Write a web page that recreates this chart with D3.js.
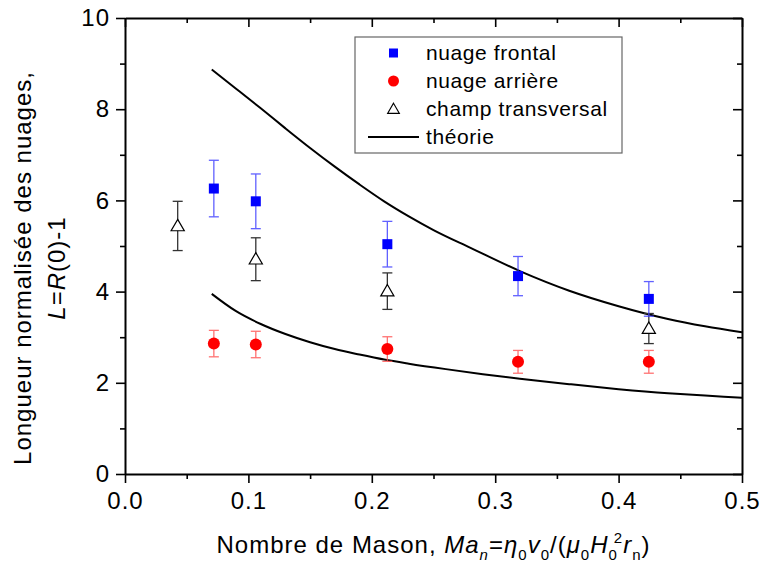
<!DOCTYPE html>
<html><head><meta charset="utf-8">
<script src="https://cdn.jsdelivr.net/npm/d3@7"></script>
<style>
body{margin:0;background:#fff;}
text{font-family:"Liberation Sans",Arial,sans-serif;fill:#000;}
</style></head>
<body><svg id="c" width="760" height="569"></svg>
<script>
// ---- data ----
const xFront = [0.072, 0.106, 0.2126, 0.3185, 0.4245];
const yFront = [6.26, 5.98, 5.04, 4.34, 3.84];
const eFront = [0.62, 0.60, 0.50, 0.43, 0.38];

const xBack = [0.072, 0.106, 0.2126, 0.3185, 0.4245];
const yBack = [2.86, 2.84, 2.74, 2.46, 2.46];
const eBack = [0.29, 0.29, 0.27, 0.25, 0.25];

const xTrans = [0.0427, 0.106, 0.2126, 0.4245];
const yTrans = [5.44, 4.71, 4.01, 3.19];
const eTrans = [0.54, 0.47, 0.40, 0.33];

const xTheoryUp = [0.0703, 0.09, 0.11, 0.13, 0.15, 0.17, 0.19, 0.21, 0.23, 0.25, 0.28, 0.32, 0.36, 0.40, 0.44, 0.47, 0.50];
const yTheoryUp = [8.87, 8.45, 8.02, 7.58, 7.15, 6.74, 6.35, 5.98, 5.65, 5.35, 4.96, 4.45, 4.02, 3.68, 3.40, 3.24, 3.11];
const xTheoryLow = [0.0703, 0.09, 0.11, 0.13, 0.15, 0.17, 0.19, 0.21, 0.23, 0.26, 0.29, 0.32, 0.36, 0.40, 0.44, 0.47, 0.50];
const yTheoryLow = [3.95, 3.57, 3.29, 3.07, 2.89, 2.74, 2.62, 2.51, 2.42, 2.30, 2.19, 2.09, 1.97, 1.86, 1.77, 1.72, 1.67];

const xTicks = [0, 0.1, 0.2, 0.3, 0.4, 0.5];
const xMinor = [0.05, 0.15, 0.25, 0.35, 0.45];
const yTicks = [0, 2, 4, 6, 8, 10];
const yMinor = [1, 3, 5, 7, 9];
const legendLabels = ["nuage frontal", "nuage arrière", "champ transversal", "théorie"];

// ---- chart ----
const svg = d3.select("#c");
const L = 125, R = 742, T = 18, B = 474;
const x = d3.scaleLinear().domain([0, 0.5]).range([L, R]);
const y = d3.scaleLinear().domain([0, 10]).range([B, T]);
const FS = 24, LS = "1px";

function styleAxis(g) {
  g.selectAll("path").attr("stroke", "#000").attr("stroke-width", 2);
  g.selectAll("line").attr("stroke", "#000").attr("stroke-width", 1.6);
}
// bottom
const gb = svg.append("g").attr("transform", `translate(0,${B})`)
  .call(d3.axisBottom(x).tickValues(xTicks).tickSize(9).tickSizeOuter(0).tickFormat(d3.format(".1f")));
gb.selectAll("text").attr("y", 18).attr("dy", "0.71em").attr("font-size", FS).style("letter-spacing", LS).attr("font-family", null);
styleAxis(gb);
const gbm = svg.append("g").attr("transform", `translate(0,${B})`)
  .call(d3.axisBottom(x).tickValues(xMinor).tickSize(5).tickSizeOuter(0).tickFormat(""));
styleAxis(gbm); gbm.select("path").remove();
// top (ticks inward)
const gt = svg.append("g").attr("transform", `translate(0,${T})`)
  .call(d3.axisBottom(x).tickValues(xTicks).tickSize(9).tickSizeOuter(0).tickFormat(""));
styleAxis(gt);
const gtm = svg.append("g").attr("transform", `translate(0,${T})`)
  .call(d3.axisBottom(x).tickValues(xMinor).tickSize(5).tickSizeOuter(0).tickFormat(""));
styleAxis(gtm); gtm.select("path").remove();
// left
const gl = svg.append("g").attr("transform", `translate(${L},0)`)
  .call(d3.axisLeft(y).tickValues(yTicks).tickSize(9).tickSizeOuter(0).tickFormat(d3.format("d")));
gl.selectAll("text").attr("x", -15).attr("font-size", FS).style("letter-spacing", LS).attr("font-family", null);
styleAxis(gl);
const glm = svg.append("g").attr("transform", `translate(${L},0)`)
  .call(d3.axisLeft(y).tickValues(yMinor).tickSize(5).tickSizeOuter(0).tickFormat(""));
styleAxis(glm); glm.select("path").remove();
// right (ticks inward)
const gr = svg.append("g").attr("transform", `translate(${R},0)`)
  .call(d3.axisLeft(y).tickValues(yTicks).tickSize(9).tickSizeOuter(0).tickFormat(""));
styleAxis(gr);
const grm = svg.append("g").attr("transform", `translate(${R},0)`)
  .call(d3.axisLeft(y).tickValues(yMinor).tickSize(5).tickSizeOuter(0).tickFormat(""));
styleAxis(grm); grm.select("path").remove();

// theory curves
const line = d3.line().x(d => x(d[0])).y(d => y(d[1])).curve(d3.curveMonotoneX);
svg.append("path").attr("d", line(d3.zip(xTheoryUp, yTheoryUp)))
  .attr("fill", "none").attr("stroke", "#000").attr("stroke-width", 2);
svg.append("path").attr("d", line(d3.zip(xTheoryLow, yTheoryLow)))
  .attr("fill", "none").attr("stroke", "#000").attr("stroke-width", 2);

// error bars
function errBars(xs, ys, es, color, op) {
  const g = svg.append("g").attr("stroke", color).attr("stroke-width", 1.3).attr("opacity", op);
  xs.forEach((xv, i) => {
    const cx = x(xv), y1 = y(ys[i] + es[i]), y2 = y(ys[i] - es[i]);
    g.append("line").attr("x1", cx).attr("x2", cx).attr("y1", y1).attr("y2", y2);
    g.append("line").attr("x1", cx - 5).attr("x2", cx + 5).attr("y1", y1).attr("y2", y1);
    g.append("line").attr("x1", cx - 5).attr("x2", cx + 5).attr("y1", y2).attr("y2", y2);
  });
}
errBars(xTrans, yTrans, eTrans, "#333", 1);
errBars(xFront, yFront, eFront, "#3a3aff", 0.8);
errBars(xBack, yBack, eBack, "#ff5050", 0.8);

// markers
const tri = d3.symbol().type(d3.symbolTriangle).size(75);
svg.append("g").selectAll("path").data(d3.zip(xTrans, yTrans)).join("path")
  .attr("d", tri).attr("transform", d => `translate(${x(d[0])},${y(d[1]) + 1})`)
  .attr("fill", "#fff").attr("stroke", "#000").attr("stroke-width", 1.2);
svg.append("g").selectAll("rect").data(d3.zip(xFront, yFront)).join("rect")
  .attr("x", d => x(d[0]) - 5).attr("y", d => y(d[1]) - 5).attr("width", 10).attr("height", 10)
  .attr("fill", "#0000ff");
svg.append("g").selectAll("circle").data(d3.zip(xBack, yBack)).join("circle")
  .attr("cx", d => x(d[0])).attr("cy", d => y(d[1])).attr("r", 6).attr("fill", "#ff0000");

// legend
const lg = svg.append("g");
lg.append("rect").attr("x", 355).attr("y", 37).attr("width", 267).attr("height", 116)
  .attr("fill", "#fff").attr("stroke", "#666").attr("stroke-width", 1.2);
const rows = [53, 81, 109, 137];
lg.append("rect").attr("x", 389).attr("y", rows[0] - 4.5).attr("width", 9).attr("height", 9).attr("fill", "#0000ff");
lg.append("circle").attr("cx", 393.5).attr("cy", rows[1]).attr("r", 5.5).attr("fill", "#ff0000");
lg.append("path").attr("d", d3.symbol().type(d3.symbolTriangle).size(60)).attr("transform", `translate(393.5,${rows[2] + 1})`)
  .attr("fill", "#fff").attr("stroke", "#000").attr("stroke-width", 1.1);
lg.append("line").attr("x1", 368).attr("x2", 419).attr("y1", rows[3]).attr("y2", rows[3]).attr("stroke", "#000").attr("stroke-width", 2);
legendLabels.forEach((t, i) => {
  lg.append("text").attr("x", 426).attr("y", rows[i]).attr("dy", "0.35em")
    .attr("font-size", 21).style("letter-spacing", "0.6px").text(t);
});

// x axis title
const xt = svg.append("text").attr("x", (L + R) / 2).attr("y", 553).attr("text-anchor", "middle")
  .attr("font-size", FS).style("letter-spacing", LS);
xt.append("tspan").text("Nombre de Mason, ");
xt.append("tspan").attr("font-style", "italic").text("Ma");
xt.append("tspan").attr("font-style", "italic").attr("font-size", 15).attr("dy", 7).text("n");
xt.append("tspan").attr("dy", -7).text("=");
xt.append("tspan").attr("font-style", "italic").text("η");
xt.append("tspan").attr("font-size", 15).attr("dy", 7).text("0");
xt.append("tspan").attr("font-style", "italic").attr("dy", -7).text("v");
xt.append("tspan").attr("font-size", 15).attr("dy", 7).text("0");
xt.append("tspan").attr("dy", -7).text("/(");
xt.append("tspan").attr("font-style", "italic").text("μ");
xt.append("tspan").attr("font-size", 15).attr("dy", 7).text("0");
xt.append("tspan").attr("font-style", "italic").attr("dy", -7).text("H");
xt.append("tspan").attr("font-size", 15).attr("dy", 7).text("0");
xt.append("tspan").attr("font-size", 15).attr("dy", -17).attr("dx", -4).text("2");
xt.append("tspan").attr("font-style", "italic").attr("dy", 10).text("r");
xt.append("tspan").attr("font-size", 15).attr("dy", 7).text("n");
xt.append("tspan").attr("dy", -7).text(")");

// y axis title (two lines)
const yc = 268;
svg.append("text").attr("transform", `translate(31,${yc}) rotate(-90)`).attr("text-anchor", "middle")
  .attr("font-size", FS).style("letter-spacing", LS).text("Longueur normalisée des nuages,");
const yt2 = svg.append("text").attr("transform", `translate(65,${yc}) rotate(-90)`).attr("text-anchor", "middle")
  .attr("font-size", FS).style("letter-spacing", LS);
yt2.append("tspan").attr("font-style", "italic").text("L");
yt2.append("tspan").text("=");
yt2.append("tspan").attr("font-style", "italic").text("R");
yt2.append("tspan").text("(0)-1");
</script></body></html>
